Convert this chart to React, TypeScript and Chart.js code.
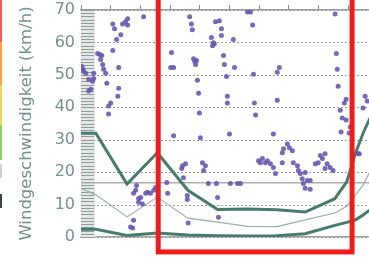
import React, { useEffect, useRef } from "react";
import { Chart, registerables } from "chart.js";

Chart.register(...registerables);

// ---------- data ----------
const yTitle = "Windgeschwindigkeit (km/h)";
const yTickValues = [0, 10, 20, 30, 40, 50, 60, 70];
const xTickLabels = ["", "", "", "20", "", "20", "", "20", "", "20"];

// measured wind speeds (scatter)
const gustX = [
  2.11, 1.57, 1.40, 1.50, 1.57, 1.07, 1.13, 1.34, 1.20, 1.07,
  0.56, 0.63, 0.70, 0.66, 0.73, 1.27, 0.76, 0.83, 0.06, 0.09,
  0.16, 0.03, 0.43, 0.43, 0.39, 0.26, 0.33, 0.26, 0.87, 1.27,
  1.24, 1.00, 0.93, 0.93, 3.66, 3.72, 3.75, 4.53, 4.66, 4.73,
  4.73, 4.39, 4.46, 4.43, 4.49, 5.13, 3.05, 3.02, 3.12, 3.79,
  3.83, 3.89, 3.86, 4.80, 4.83, 5.17, 4.90, 3.92, 3.96, 4.93,
  4.93, 3.99, 5.71, 5.61, 5.78, 8.56, 8.60, 8.63, 8.66, 5.81,
  6.61, 6.68, 6.61, 5.84, 5.88, 8.93, 8.87, 8.73, 8.80, 8.93,
  9.50, 9.57, 9.64, 8.76, 9.03, 9.07, 9.37, 3.12, 4.02, 5.00,
  3.42, 3.39, 3.52, 4.09, 4.19, 4.13, 3.45, 2.89, 2.92, 4.29,
  4.56, 5.03, 5.27, 5.37, 3.58, 3.58, 4.60, 4.63, 3.61, 1.77,
  1.67, 1.74, 1.94, 1.84, 1.77, 1.94, 2.01, 2.18, 2.24, 2.34,
  2.45, 2.51, 2.07, 1.87, 6.48, 6.95, 7.02, 7.12, 6.82, 6.78,
  5.98, 6.11, 6.21, 6.28, 6.38, 6.48, 6.55, 6.78, 7.15, 7.29,
  7.32, 7.39, 7.55, 7.45, 7.49, 7.62, 7.72, 7.55, 7.72, 7.89,
  7.99, 8.13, 8.06, 8.22, 8.29, 8.39, 8.49, 8.22, 9.34, 6.04,
];
const gustY = [
  67.9, 67.3, 65.7, 66.4, 65.4, 65.7, 64.2, 62.4, 60.9, 57.5,
  56.6, 56.3, 56.0, 54.7, 53.2, 52.3, 51.7, 50.5, 51.7, 51.1,
  50.5, 52.6, 50.5, 48.9, 48.0, 48.6, 45.6, 45.0, 47.4, 45.9,
  43.4, 41.3, 40.4, 37.9, 67.9, 65.7, 63.9, 66.4, 66.7, 64.2,
  62.1, 61.5, 59.9, 59.0, 59.6, 60.9, 56.9, 52.3, 52.3, 55.0,
  54.1, 54.4, 53.2, 56.0, 53.2, 52.3, 49.5, 48.3, 44.3, 43.4,
  41.3, 38.2, 69.4, 69.4, 65.4, 68.8, 56.6, 51.7, 46.5, 50.2,
  50.8, 52.3, 42.2, 41.3, 37.6, 42.5, 41.3, 39.1, 36.7, 36.1,
  39.8, 43.4, 41.9, 32.4, 32.1, 33.9, 25.7, 31.2, 30.6, 31.8,
  22.0, 21.1, 22.6, 22.9, 22.0, 20.5, 18.3, 16.8, 13.5, 16.5,
  16.5, 16.5, 16.5, 16.5, 12.8, 11.6, 12.2, 6.1, 4.3, 5.2,
  3.1, 2.8, 10.7, 14.4, 13.5, 11.9, 12.2, 13.5, 13.8, 13.5,
  14.4, 15.3, 10.2, 15.9, 31.8, 28.7, 27.5, 26.6, 27.2, 26.0,
  23.5, 24.2, 22.9, 23.5, 22.6, 21.4, 19.6, 22.9, 22.9, 22.0,
  20.5, 19.6, 19.9, 18.0, 16.5, 17.4, 17.4, 15.0, 14.7, 22.6,
  22.9, 24.2, 25.1, 25.7, 22.6, 21.4, 20.5, 21.1, 25.7, 22.9,
];

// model curves
const curveX = [0, 0.5, 1.55, 2.57, 3.6, 4.6, 5.6, 6.6, 7.55, 8.55, 8.95, 9.25, 9.5, 9.75, 10.2];
const upperCurve = [32, 32, 16.3, 26, 14.4, 8.5, 8.6, 8.4, 7.7, 11.8, 17, 26, 32, 37, 45];
const middleCurve = [15, 13, 6.2, 12.3, 5.8, 4.6, 3.3, 3.2, 5.3, 7.4, 9.5, 13, 16, 20.5, 27];
const lowerCurve = [2.4, 2.4, 0.5, 1.2, 0.6, 0.4, 0.3, 0.4, 1.0, 3.6, 4.5, 5.3, 6.8, 8.5, 15];

const referenceLevel = 16.7;
const highlightX = [2.6, 9.13];
const highlightY = [-4.6, 95];

// ---------- styling ----------
const X_MIN = 0;
const X_MAX = 9.7;
const FONT = "'DejaVu Sans', sans-serif";
const TEXT_COLOR = "#74918d";
const THICK = "#477b6d";
const THIN = "#9ab0aa";
const DOT = "rgba(104, 88, 176, 0.9)";

const toPoints = (xs: number[], ys: number[]) => xs.map((x, i) => ({ x, y: ys[i] }));

const backdropPlugin = {
  id: "backdrop",
  beforeDatasetsDraw(chart: any) {
    const { ctx, chartArea, scales } = chart;
    const y = scales.y;
    ctx.save();
    ctx.fillStyle = "#e3e8e7";
    ctx.fillRect(chartArea.left, chartArea.top, 14, chartArea.bottom - chartArea.top);
    ctx.strokeStyle = "#8f9d9b";
    ctx.lineWidth = 1;
    for (let v = 0; v <= 70; v += 1) {
      const py = Math.round(y.getPixelForValue(v)) + 0.5;
      ctx.beginPath();
      ctx.moveTo(chartArea.left, py);
      ctx.lineTo(chartArea.left + 13, py);
      ctx.stroke();
    }
    ctx.strokeStyle = "#9c9c9c";
    ctx.setLineDash([2, 2]);
    for (const v of yTickValues) {
      const py = Math.round(y.getPixelForValue(v)) + 0.5;
      ctx.beginPath();
      ctx.moveTo(chartArea.left, py);
      ctx.lineTo(chartArea.right, py);
      ctx.stroke();
    }
    ctx.restore();
  },
};

const highlightPlugin = {
  id: "highlight",
  afterDraw(chart: any) {
    const { ctx, scales } = chart;
    const x0 = scales.x.getPixelForValue(highlightX[0]);
    const x1 = scales.x.getPixelForValue(highlightX[1]);
    const y0 = scales.y.getPixelForValue(highlightY[0]);
    const y1 = scales.y.getPixelForValue(highlightY[1]);
    ctx.save();
    ctx.strokeStyle = "#f01c1c";
    ctx.lineWidth = 5;
    ctx.strokeRect(x0, y1, x1 - x0, y0 - y1);
    ctx.restore();
  },
};

export default function App() {
  const ref = useRef<HTMLCanvasElement>(null);

  useEffect(() => {
    const chart = new Chart(ref.current as HTMLCanvasElement, {
      type: "scatter",
      data: {
        datasets: [
          {
            label: "Messwerte",
            data: toPoints(gustX, gustY),
            backgroundColor: DOT,
            borderWidth: 0,
            pointRadius: 2.5,
            hoverRadius: 0,
          } as any,
          {
            label: "oben",
            data: toPoints(curveX, upperCurve),
            showLine: true,
            borderColor: THICK,
            borderWidth: 3,
            pointRadius: 0,
            tension: 0,
          },
          {
            label: "mitte",
            data: toPoints(curveX, middleCurve),
            showLine: true,
            borderColor: THIN,
            borderWidth: 1.2,
            pointRadius: 0,
            tension: 0,
          },
          {
            label: "unten",
            data: toPoints(curveX, lowerCurve),
            showLine: true,
            borderColor: THICK,
            borderWidth: 3,
            pointRadius: 0,
            tension: 0,
          },
          {
            label: "Referenz",
            data: [
              { x: X_MIN, y: referenceLevel },
              { x: X_MAX, y: referenceLevel },
            ],
            showLine: true,
            borderColor: "#adadad",
            borderWidth: 1.5,
            pointRadius: 0,
          },
        ],
      },
      options: {
        animation: false,
        responsive: false,
        events: [],
        layout: { autoPadding: false, padding: { top: 2, bottom: 23, left: 0, right: 0 } },
        plugins: {
          legend: { display: false },
          tooltip: { enabled: false },
        },
        scales: {
          x: {
            type: "linear",
            position: "top",
            min: X_MIN,
            max: X_MAX,
            afterFit: (s: any) => {
              s.height = 28;
              s.paddingLeft = 0;
              s.paddingRight = 0;
            },
            ticks: {
              stepSize: 1,
              includeBounds: false,
              autoSkip: false,
              maxRotation: 0,
              padding: 2,
              color: TEXT_COLOR,
              font: { family: FONT, size: 14 },
              callback: (v: any) => xTickLabels[Math.round(Number(v))] ?? "",
            },
            grid: { drawOnChartArea: false, tickLength: 5, color: "#8a8a8a" },
            border: { display: true, color: "#9c9c9c", width: 1.5 },
          },
          x2: {
            type: "linear",
            position: "bottom",
            min: X_MIN,
            max: X_MAX,
            afterFit: (s: any) => {
              s.height = 0;
              s.paddingLeft = 0;
              s.paddingRight = 0;
            },
            ticks: { display: false },
            grid: { display: false, drawTicks: false },
            border: { display: true, color: "#a4a4a4", width: 1.5 },
          },
          y: {
            type: "linear",
            min: yTickValues[0],
            max: yTickValues[yTickValues.length - 1],
            afterFit: (s: any) => {
              s.width = 81;
            },
            afterBuildTicks: (s: any) => {
              s.ticks = yTickValues.map((v) => ({ value: v }));
            },
            ticks: {
              padding: 6,
              color: TEXT_COLOR,
              font: { family: FONT, size: 16 },
            },
            grid: { display: false, drawTicks: false },
            border: { display: false },
            title: {
              display: true,
              text: yTitle,
              color: TEXT_COLOR,
              font: { family: FONT, size: 16.5 },
              padding: { top: 17, bottom: 0 },
            },
          },
        },
      } as any,
      plugins: [backdropPlugin, highlightPlugin],
    });
    return () => chart.destroy();
  }, []);

  const strip = [
    { top: 0, height: 42, color: "#ee5c5c" },
    { top: 42, height: 43, color: "#f3a349" },
    { top: 85, height: 40, color: "#f2d45c" },
    { top: 125, height: 35, color: "#8ed26c" },
    { top: 164, height: 14, color: "#cfd3d2" },
    { top: 194, height: 14, color: "#394a42" },
  ];

  return (
    <div
      style={{
        position: "fixed",
        left: 0,
        top: 0,
        width: 369,
        height: 260,
        overflow: "hidden",
        background: "#ffffff",
      }}
    >
      <canvas
        ref={ref}
        width={369}
        height={280}
        style={{ position: "absolute", left: 0, top: -20, width: 369, height: 280 }}
      />
      {strip.map((s, i) => (
        <div
          key={i}
          style={{
            position: "absolute",
            left: 0,
            top: s.top,
            width: 2,
            height: s.height,
            background: s.color,
          }}
        />
      ))}
    </div>
  );
}
